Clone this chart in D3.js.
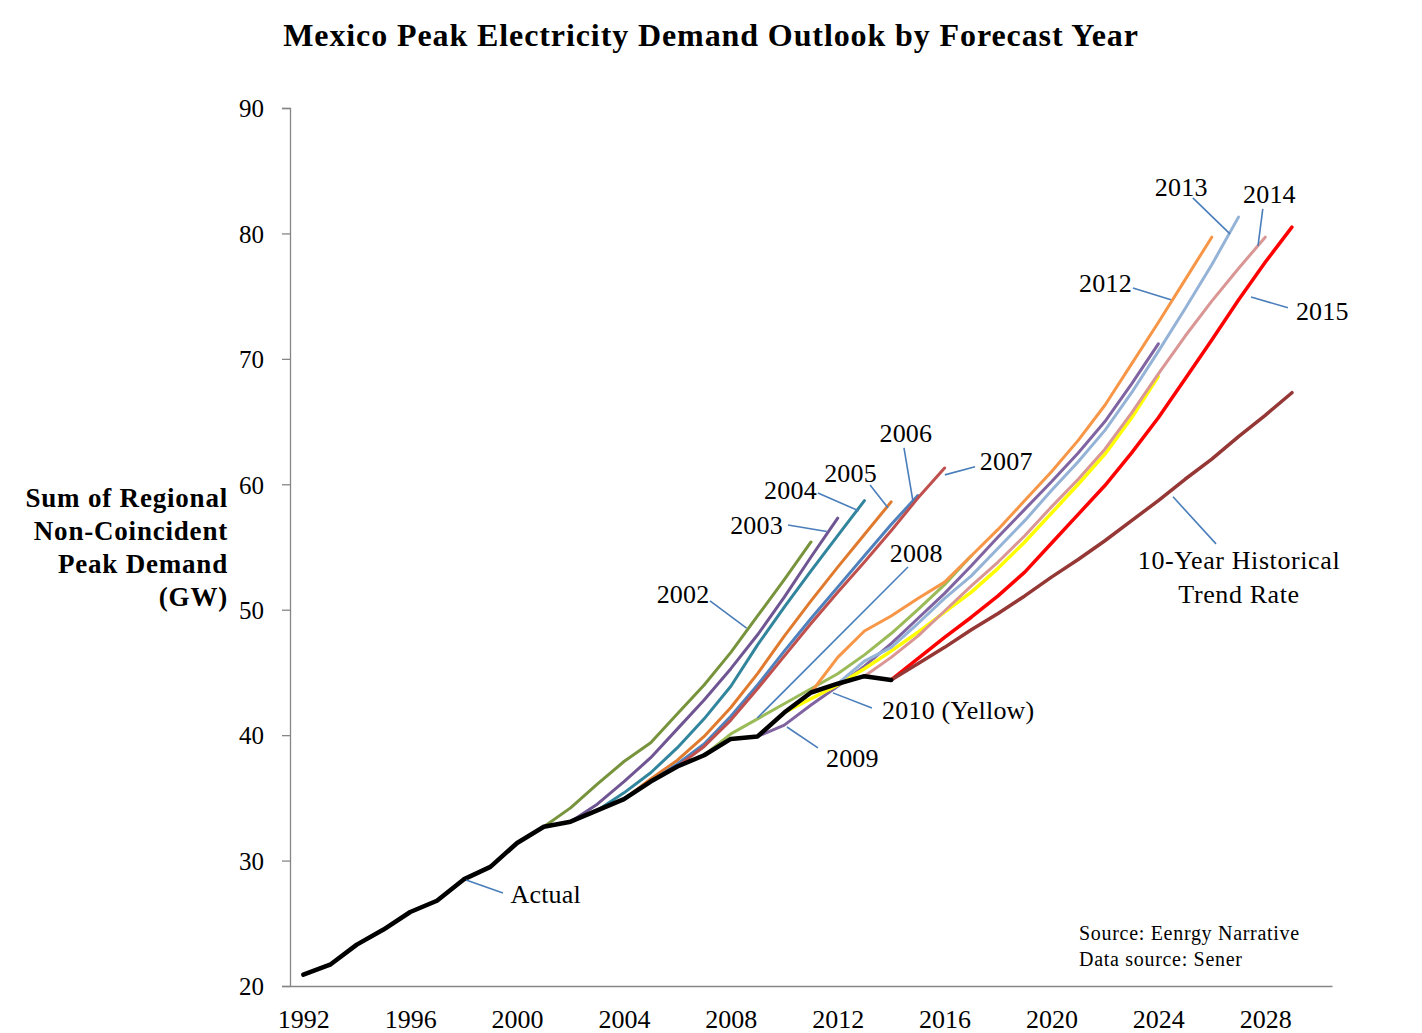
<!DOCTYPE html>
<html>
<head>
<meta charset="utf-8">
<title>Mexico Peak Electricity Demand Outlook</title>
<style>
body { margin: 0; background: #fff; }
text { font-family: "Liberation Serif", "DejaVu Serif", serif; fill: #000; }
</style>
</head>
<body>
<script src="https://d3js.org/d3.v7.min.js"></script>
<script>
// dane (GW)
var actualYears = d3.range(1992, 2015);
var actualValues = [20.9, 21.7, 23.3, 24.5, 25.9, 26.8, 28.5, 29.5, 31.4, 32.7, 33.1, 34.0,
  34.9, 36.3, 37.5, 38.4, 39.7, 39.9, 41.8, 43.4, 44.1, 44.7, 44.4];

var f2002 = [32.7, 34.2, 36.1, 37.9, 39.4, 41.7, 44.0, 46.6, 49.5, 52.4, 55.4];          // 2001-2011
var f2003 = [33.1, 34.5, 36.3, 38.2, 40.5, 42.8, 45.3, 48.0, 51.0, 54.2, 57.3];          // 2002-2012
var f2004 = [34.0, 35.4, 37.0, 39.0, 41.3, 43.9, 47.2, 50.2, 53.1, 55.9, 58.7];          // 2003-2013
var f2005 = [34.9, 36.5, 38.0, 39.9, 42.2, 44.9, 47.9, 50.7, 53.4, 56.0, 58.6];          // 2004-2014
var f2006 = [36.3, 37.7, 39.3, 41.5, 44.0, 46.7, 49.3, 51.8, 54.3, 56.8, 59.1];          // 2005-2015
var f2007 = [37.5, 39.1, 41.2, 43.7, 46.3, 48.9, 51.4, 53.8, 56.3, 58.9, 61.3];          // 2006-2016
var f2008 = [38.4, 40.1, 41.3, 42.5, 43.7, 44.9, 46.4, 48.1, 50.0, 52.0, 54.3];          // 2007-2017
var f2009 = [39.9, 40.8, 42.4, 43.9, 45.5, 47.3, 49.3, 51.3, 53.5, 55.8, 58.0, 60.2,
  62.5, 65.0, 68.0, 71.2];                                                                // 2009-2024
var f2010 = [41.8, 42.9, 44.0, 45.3, 46.7, 48.2, 49.8, 51.4, 53.3, 55.4, 57.7, 60.0,
  62.4, 65.3, 68.6];                                                                      // 2010-2024
var f2012 = [43.4, 46.2, 48.3, 49.5, 50.9, 52.2, 54.3, 56.4, 58.7, 61.0, 63.5, 66.3,
  69.6, 72.9, 76.3, 79.7];                                                                // 2011-2026
var f2013 = [44.1, 45.9, 47.0, 48.9, 50.9, 52.7, 54.9, 57.1, 59.5, 61.8, 64.3, 67.3,
  70.6, 74.0, 77.5, 81.3];                                                                // 2012-2027
var f2014 = [44.7, 46.2, 47.9, 49.9, 51.9, 53.8, 55.9, 58.2, 60.4, 62.8, 65.7, 68.8,
  71.8, 74.6, 77.2, 79.7];                                                                // 2013-2028
var f2015 = [44.4, 46.1, 47.8, 49.4, 51.1, 53.0, 55.3, 57.6, 59.9, 62.5, 65.3, 68.4,
  71.5, 74.7, 77.7, 80.5];                                                                // 2014-2029
var trend = [44.4, 45.7, 47.0, 48.4, 49.7, 51.1, 52.6, 54.0, 55.5, 57.1, 58.7, 60.4,
  62.0, 63.8, 65.5, 67.3];                                                                // 2014-2029

var xTicks = d3.range(1992, 2029, 4);
var yTicks = [20, 30, 40, 50, 60, 70, 80, 90];

// serie: rok startu, wartosci, kolor, grubosc
var series = [
  {start: 2001, values: f2002, color: "#77933c", w: 3},
  {start: 2002, values: f2003, color: "#705593", w: 3},
  {start: 2003, values: f2004, color: "#31859c", w: 3},
  {start: 2004, values: f2005, color: "#e07a2e", w: 3},
  {start: 2005, values: f2006, color: "#4f81bd", w: 3},
  {start: 2006, values: f2007, color: "#c0504d", w: 3},
  {start: 2007, values: f2008, color: "#9bbb59", w: 3},
  {start: 2009, values: f2009, color: "#8064a2", w: 3},
  {start: 2010, values: f2010, color: "#ffff00", w: 3.5},
  {start: 2011, values: f2012, color: "#f79646", w: 3},
  {start: 2012, values: f2013, color: "#95b3d7", w: 3},
  {start: 2013, values: f2014, color: "#d99694", w: 3},
  {start: 2014, values: f2015, color: "#ff0000", w: 3.5},
  {start: 2014, values: trend, color: "#953735", w: 3.5},
  {start: 1992, values: actualValues, color: "#000000", w: 4.5}
];

// opisy z liniami odniesienia (wspolrzedne w jednostkach wykresu)
var labels = [
  {t: ["Actual"], x: 1999.75, y: 26.6, a: "start", l: [[1998.09, 28.45], [1999.47, 27.42]]},
  {t: ["2002"], x: 2007.2, y: 50.55, a: "end", l: [[2007.22, 50.7], [2008.59, 48.53]]},
  {t: ["2003"], x: 2009.95, y: 56.05, a: "end", l: [[2010.14, 56.76], [2011.59, 56.23]]},
  {t: ["2004"], x: 2011.22, y: 58.85, a: "end", l: [[2011.26, 59.31], [2012.79, 57.88]]},
  {t: ["2005"], x: 2013.47, y: 60.2, a: "end", l: [[2013.21, 59.95], [2013.88, 58.12]]},
  {t: ["2006"], x: 2014.55, y: 63.4, a: "middle", l: [[2014.48, 62.9], [2014.82, 58.6]]},
  {t: ["2007"], x: 2017.32, y: 61.15, a: "start", l: [[2017.14, 61.39], [2016.01, 60.75]]},
  {t: ["2008"], x: 2013.95, y: 53.8, a: "start", l: [[2014.63, 53.41], [2008.99, 41.37]]},
  {t: ["2009"], x: 2011.56, y: 37.45, a: "start", l: [[2011.26, 38.98], [2010.1, 40.65]]},
  {t: ["2010 (Yellow)"], x: 2013.66, y: 41.3, a: "start", l: [[2013.28, 42.17], [2011.82, 43.37]]},
  {t: ["2012"], x: 2023.01, y: 75.35, a: "end", l: [[2023.05, 75.65], [2024.47, 74.71]]},
  {t: ["2013"], x: 2023.87, y: 83.0, a: "start", l: [[2025.29, 82.84], [2026.68, 79.97]]},
  {t: ["2014"], x: 2027.17, y: 82.45, a: "start", l: [[2027.91, 81.96], [2027.73, 79.0]]},
  {t: ["2015"], x: 2029.15, y: 73.1, a: "start", l: [[2028.85, 74.07], [2027.47, 74.94]]},
  {t: ["10-Year Historical", "Trend Rate"], x: 2027.02, y: 53.25, a: "middle", l: [[2026.16, 55.25], [2024.55, 59.0]]}
];

var width = 1422, height = 1033;
var svg = d3.select("body").append("svg")
  .attr("width", width)
  .attr("height", height);

var x = d3.scaleLinear().domain([1991.5, 2030.5]).range([290, 1332]);
var y = d3.scaleLinear().domain([20, 90]).range([986, 108]);

// tytul
svg.append("text")
  .attr("x", 711).attr("y", 46)
  .attr("text-anchor", "middle")
  .style("font-size", "32px").style("font-weight", "bold")
  .style("letter-spacing", "0.9px")
  .text("Mexico Peak Electricity Demand Outlook by Forecast Year");

// os Y
var yAxis = svg.append("g")
  .attr("transform", "translate(290,0)")
  .call(d3.axisLeft(y).tickValues(yTicks).tickSize(8).tickPadding(18).tickFormat(d3.format("d")));
yAxis.selectAll("text").style("font-size", "25px").attr("dy", "0.35em");

// os X
var xAxis = svg.append("g")
  .attr("transform", "translate(0,986)")
  .call(d3.axisBottom(x).tickValues(xTicks).tickSize(0).tickPadding(24).tickFormat(d3.format("d")));
xAxis.selectAll("text").style("font-size", "26px");
svg.selectAll(".domain").attr("stroke", "#868686").attr("stroke-width", 1.3);
svg.selectAll(".tick line").attr("stroke", "#868686").attr("stroke-width", 1.3);

// tytul osi Y
var yTitle = svg.append("text")
  .attr("text-anchor", "end")
  .style("font-size", "27px").style("font-weight", "bold")
  .style("letter-spacing", "0.8px");
["Sum of Regional", "Non-Coincident", "Peak Demand", "(GW)"].forEach(function(s, i) {
  yTitle.append("tspan").attr("x", 228).attr("y", 507 + i * 33).text(s);
});

// linie
var line = d3.line()
  .x(function(d) { return x(d[0]); })
  .y(function(d) { return y(d[1]); });

svg.append("g").selectAll("path")
  .data(series)
  .enter()
  .append("path")
  .attr("d", function(s) {
    return line(s.values.map(function(v, i) { return [s.start + i, v]; }));
  })
  .attr("fill", "none")
  .attr("stroke", function(s) { return s.color; })
  .attr("stroke-width", function(s) { return s.w; })
  .attr("stroke-linejoin", "round")
  .attr("stroke-linecap", "round");

// opisy
var ann = svg.append("g");
ann.selectAll("line")
  .data(labels)
  .enter()
  .append("line")
  .attr("x1", function(d) { return x(d.l[0][0]); })
  .attr("y1", function(d) { return y(d.l[0][1]); })
  .attr("x2", function(d) { return x(d.l[1][0]); })
  .attr("y2", function(d) { return y(d.l[1][1]); })
  .attr("stroke", "#4a7ebb")
  .attr("stroke-width", 1.6);

labels.forEach(function(d) {
  var t = ann.append("text")
    .attr("text-anchor", d.a)
    .style("font-size", "26px")
    .style("letter-spacing", d.t.length > 1 ? "0.6px" : "0.2px");
  d.t.forEach(function(s, i) {
    t.append("tspan").attr("x", x(d.x)).attr("y", y(d.y) + i * 34).text(s);
  });
});

// zrodlo
svg.append("text").attr("x", 1079).attr("y", 940).style("font-size", "20px").style("letter-spacing", "0.7px").text("Source: Eenrgy Narrative");
svg.append("text").attr("x", 1079).attr("y", 966).style("font-size", "20px").style("letter-spacing", "0.7px").text("Data source: Sener");
</script>
</body>
</html>
